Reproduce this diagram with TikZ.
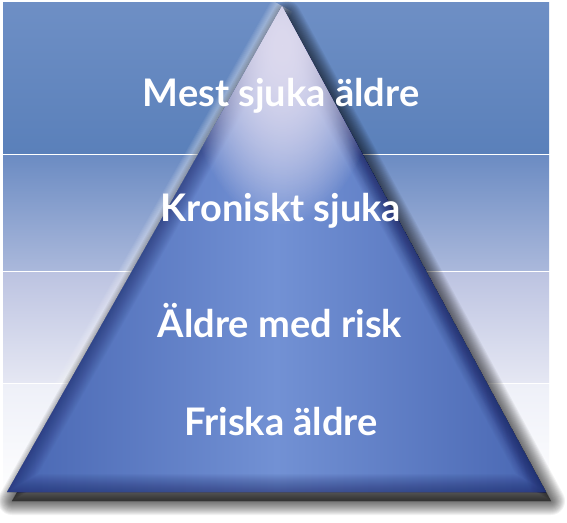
\documentclass[tikz,border=0pt]{standalone}
\usepackage{fontspec}
\setmainfont{Lato}
\usepackage{xcolor}
\definecolor{bandAtop}{HTML}{6E8FC5}
\definecolor{bandAbot}{HTML}{5A80BA}
\definecolor{bandBtop}{HTML}{6C8CC3}
\definecolor{bandBbot}{HTML}{AAB8DB}
\definecolor{bandCtop}{HTML}{BCC3E1}
\definecolor{bandCbot}{HTML}{E5E7F3}
\definecolor{bandDtop}{HTML}{EEF0F8}
\definecolor{pyrside}{HTML}{4866B2}
\definecolor{pyrmid}{HTML}{7291D4}
\definecolor{pyredge}{HTML}{18205E}
\definecolor{tipglow}{HTML}{DCD9EE}
\usetikzlibrary{fadings}
\tikzfading[name=glowfade, inner color=transparent!0, outer color=transparent!100]
\tikzset{
    font={\fontsize{38bp}{42bp}\selectfont\bfseries},
    tier/.style={text=white, anchor=base, inner sep=0pt},
    }
\def\pyr{(282,6)--(7,492)--(546,492)--cycle}

\begin{document}
\begin{tikzpicture}
    [x=1bp, y=-1bp]
    \useasboundingbox[fill=white] (0,0) rectangle (567,523);
    % bands
    \shade[top color=bandAtop, bottom color=bandAbot] (3,3) rectangle (549,154);
    \shade[top color=bandBtop, bottom color=bandBbot] (3,156) rectangle (549,270);
    \shade[top color=bandCtop, bottom color=bandCbot] (3,272) rectangle (549,382);
    \shade[top color=bandDtop, bottom color=white] (3,384) rectangle (549,500);
    % halo and shadow
    \foreach \w in {2,4,...,24}
        \draw[white, opacity=.06, line width=\w bp] (282,6)--(7,492);
    \foreach \w in {2,4,...,28}
        \filldraw[black, opacity=.05, line width=\w bp, line join=round,
            shift={(5,9)}] (282,6)--(7,492)--(546,492)--cycle;
    % pyramid
    \shade[left color=pyrside, right color=pyrside, middle color=pyrmid] \pyr;
    \begin{scope}
        \clip \pyr;
        \foreach \w in {2,4,...,36}
            \draw[pyredge, opacity=.035, line width=\w bp] \pyr;
        \foreach \w in {2,4,...,24}
            \draw[pyredge, opacity=.03, line width=\w bp] (282,6)--(546,492);
        \foreach \r in {1,2}
            \fill[tipglow, path fading=glowfade] (282,45) ellipse [x radius=100, y radius=180];
    \end{scope}
    % text
    \node[tier] (mest) at (281,107) {Mest sjuka äldre};
    \node[tier] (kron) at (281,222) {Kroniskt sjuka};
    \node[tier] (risk) at (280,337) {Äldre med risk};
    \node[tier] (frisk) at (281,435) {Friska äldre};
\end{tikzpicture}
\end{document}
